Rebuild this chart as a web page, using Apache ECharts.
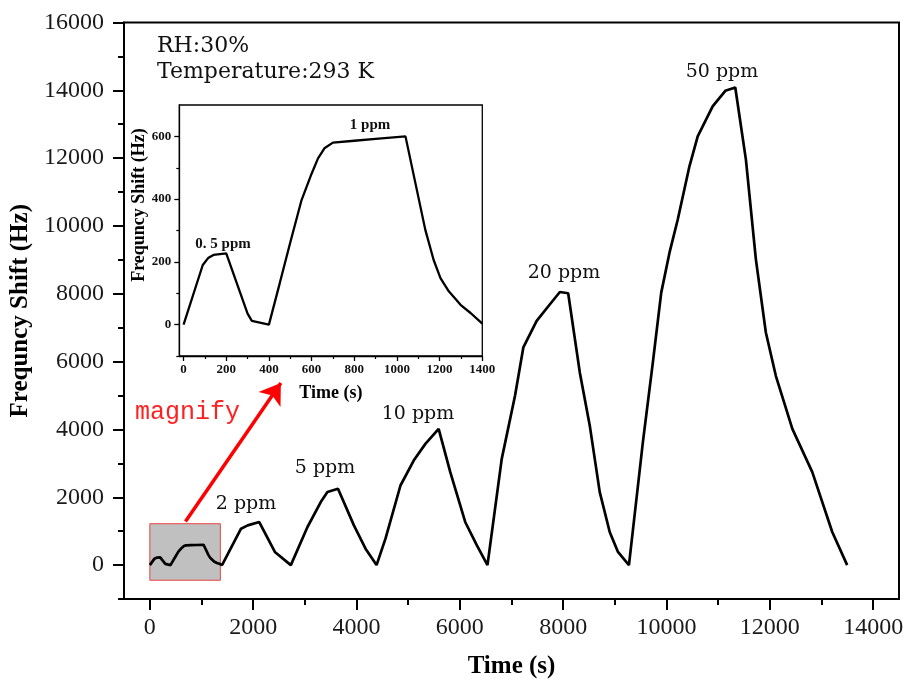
<!DOCTYPE html>
<html>
<head>
<meta charset="utf-8">
<script src="https://cdn.jsdelivr.net/npm/echarts@6/dist/echarts.min.js"></script>
<style>html,body{margin:0;padding:0;background:#fff;}#chart{width:907px;height:684px;}</style>
</head>
<body>
<div id="chart"></div>
<script>
// ---- data ----
// low-concentration part (0.5 ppm and 1 ppm), shown in the inset and at the start of the main curve
const lowTime  = [0, 90, 115, 140, 200, 300, 320, 400, 450, 500, 553, 600, 630, 660, 700, 800, 900, 1040, 1133, 1172, 1204, 1243, 1298, 1345, 1400];
const lowShift = [0, 190, 212, 222, 227, 35, 12, 0, 130, 262, 397, 481, 530, 562, 580, 586, 592, 600, 302, 206, 148, 106, 63, 37, 3];
// 2, 5, 10, 20, 50 ppm part of the main curve
const highTime  = [1765, 1894, 2118, 2420, 2729, 3051, 3308, 3437, 3642, 3950, 4175, 4388, 4561, 4851, 5107, 5333, 5590, 5815, 6104, 6330, 6535, 6811, 7068, 7229, 7487, 7744, 7936, 8097, 8322, 8515, 8708, 8901, 9061, 9273, 9543, 9736, 9898, 10058, 10218, 10444, 10604, 10893, 11138, 11331, 11537, 11730, 11923, 12116, 12436, 12822, 13208, 13497];
const highShift = [1074, 1171, 1270, 388, 0, 1123, 1859, 2153, 2250, 1170, 485, 0, 779, 2347, 3082, 3574, 4015, 2741, 1271, 582, 0, 3132, 4994, 6417, 7200, 7691, 8053, 8015, 5682, 4112, 2153, 976, 388, 0, 3624, 5976, 8035, 9212, 10191, 11759, 12641, 13524, 13985, 14082, 11956, 9015, 6859, 5582, 4015, 2741, 976, 0];

// tick values
const mainXMajor = [0, 2000, 4000, 6000, 8000, 10000, 12000, 14000];
const mainXMinor = [1000, 3000, 5000, 7000, 9000, 11000, 13000];
const mainYMajor = [0, 2000, 4000, 6000, 8000, 10000, 12000, 14000, 16000];
const mainYMinor = [-1000, 1000, 3000, 5000, 7000, 9000, 11000, 13000, 15000];
const insetXMajor = [0, 200, 400, 600, 800, 1000, 1200, 1400];
const insetXMinor = [100, 300, 500, 700, 900, 1100, 1300];
const insetYMajor = [0, 200, 400, 600];
const insetYMinor = [-100, 100, 300, 500];

// annotation texts
const condText = ['RH:30%', 'Temperature:293 K'];
const ppmLabels = ['2 ppm', '5 ppm', '10 ppm', '20 ppm', '50 ppm'];
const insetLabels = ['0. 5 ppm', '1 ppm'];
const magnifyText = 'magnify';
// magnified region and arrow (data coordinates of the main axes)
const zoomBox = [[0, 1220], [1365, -447]];
const arrowFromTo = [[690, 1288], [2536, 5368]];

const mainTime = lowTime.concat(highTime);
const mainShift = lowShift.concat(highShift);
const mainData = mainTime.map((t, i) => [t, mainShift[i]]);
const insetData = lowTime.map((t, i) => [t, lowShift[i]]);

const SERIF = '"Liberation Serif", "Times New Roman", serif';
const DSERIF = '"DejaVu Serif", serif';
const plain = v => String(v);

const chart = echarts.init(document.getElementById('chart'), null, {renderer: 'canvas'});

function minorAxis(base, vals, len, w) {
  return Object.assign({}, base, {
    name: '',
    axisLine: {show: false, onZero: false},
    axisLabel: {show: false},
    splitLine: {show: false},
    axisTick: {show: true, customValues: vals, length: len, inside: false, lineStyle: {color: '#000', width: w}}
  });
}

const mainX = {
  type: 'value', gridIndex: 0, min: -500, max: 14500, position: 'bottom',
  axisLine: {show: true, onZero: false, lineStyle: {color: '#000', width: 2}},
  axisTick: {show: true, customValues: mainXMajor, length: 11, lineStyle: {color: '#000', width: 2}},
  axisLabel: {show: true, customValues: mainXMajor, formatter: plain, fontFamily: SERIF, fontSize: 24, color: '#1a1a1a', margin: 17},
  splitLine: {show: false},
  name: 'Time (s)', nameLocation: 'middle', nameGap: 55,
  nameTextStyle: {fontFamily: SERIF, fontWeight: 'bold', fontSize: 25, color: '#000'}
};
const mainY = {
  type: 'value', gridIndex: 0, min: -1000, max: 16000, position: 'left',
  axisLine: {show: true, onZero: false, lineStyle: {color: '#000', width: 2}},
  axisTick: {show: true, customValues: mainYMajor, length: 11, lineStyle: {color: '#000', width: 2}},
  axisLabel: {show: true, customValues: mainYMajor, formatter: plain, fontFamily: SERIF, fontSize: 24, color: '#1a1a1a', margin: 20},
  splitLine: {show: false},
  name: 'Frequncy Shift (Hz)', nameLocation: 'middle', nameGap: 84,
  nameTextStyle: {fontFamily: SERIF, fontWeight: 'bold', fontSize: 25, color: '#000'}
};
const insetX = {
  type: 'value', gridIndex: 1, min: -20, max: 1400, position: 'bottom', z: 12,
  axisLine: {show: true, onZero: false, lineStyle: {color: '#000', width: 1.3}},
  axisTick: {show: true, customValues: insetXMajor, length: 5, lineStyle: {color: '#000', width: 1.3}},
  axisLabel: {show: true, customValues: insetXMajor, formatter: plain, fontFamily: SERIF, fontWeight: 'bold', fontSize: 13, color: '#111', margin: 7},
  splitLine: {show: false},
  name: 'Time (s)', nameLocation: 'middle', nameGap: 28,
  nameTextStyle: {fontFamily: SERIF, fontWeight: 'bold', fontSize: 18, color: '#000'}
};
const insetY = {
  type: 'value', gridIndex: 1, min: -100, max: 700, position: 'left', z: 12,
  axisLine: {show: true, onZero: false, lineStyle: {color: '#000', width: 1.3}},
  axisTick: {show: true, customValues: insetYMajor, length: 5, lineStyle: {color: '#000', width: 1.3}},
  axisLabel: {show: true, customValues: insetYMajor, formatter: plain, fontFamily: SERIF, fontWeight: 'bold', fontSize: 13, color: '#111', margin: 8},
  splitLine: {show: false}
};

function txt(text, x, y, font, fill, align) {
  return {type: 'text', x: x, y: y, z: 50, silent: true,
    style: {text: text, font: font, fill: fill || '#111', textAlign: align || 'center', textVerticalAlign: 'middle'}};
}

const option = {
  animation: false,
  backgroundColor: '#fff',
  grid: [
    {left: 124, top: 22.5, right: 8, bottom: 84, show: true, borderColor: '#000', borderWidth: 2, backgroundColor: 'transparent', z: 0},
    {left: 179.3, top: 105, width: 303, height: 251, show: true, borderColor: '#000', borderWidth: 1.3, backgroundColor: '#fff', z: 10}
  ],
  xAxis: [
    mainX,
    minorAxis(mainX, mainXMinor, 6, 2),
    insetX,
    minorAxis(insetX, insetXMinor, 3, 1.2)
  ],
  yAxis: [
    mainY,
    minorAxis(mainY, mainYMinor, 6, 2),
    insetY,
    minorAxis(insetY, insetYMinor, 3, 1.2)
  ],
  series: [
    {
      type: 'line', xAxisIndex: 0, yAxisIndex: 0, data: mainData,
      showSymbol: false, symbol: 'none', smooth: false, z: 3,
      lineStyle: {color: '#000', width: 2.7},
      markArea: {
        silent: true,
        itemStyle: {color: '#c0c0c0', opacity: 1, borderColor: '#e84545', borderWidth: 1},
        data: [[{coord: zoomBox[0]}, {coord: zoomBox[1]}]]
      },
      markLine: {
        silent: true, symbol: ['none', 'arrow'], symbolSize: 20,
        label: {show: false},
        lineStyle: {color: '#ff0000', width: 3.5, type: 'solid'},
        data: [[{coord: arrowFromTo[0]}, {coord: arrowFromTo[1]}]]
      }
    },
    {
      type: 'line', xAxisIndex: 2, yAxisIndex: 2, data: insetData,
      showSymbol: false, symbol: 'none', smooth: false, z: 13,
      lineStyle: {color: '#000', width: 2.3}
    }
  ],
  graphic: [
    txt(condText[0], 157, 46, '22px ' + DSERIF, '#111', 'left'),
    txt(condText[1], 157, 72, '22px ' + DSERIF, '#111', 'left'),
    txt(ppmLabels[0], 246, 504, '19px ' + DSERIF),
    txt(ppmLabels[1], 325, 468, '19px ' + DSERIF),
    txt(ppmLabels[2], 418, 414, '19px ' + DSERIF),
    txt(ppmLabels[3], 564, 273, '19px ' + DSERIF),
    txt(ppmLabels[4], 722, 72, '19px ' + DSERIF),
    txt(magnifyText, 135, 412, '25px "Liberation Mono", monospace', '#ff2020', 'left'),
    txt(insetLabels[0], 223, 244, 'bold 15px ' + SERIF),
    txt(insetLabels[1], 370, 125, 'bold 15px ' + SERIF),
    {type: 'text', x: 139, y: 205, z: 50, rotation: Math.PI / 2, silent: true,
      style: {text: 'Frequncy Shift (Hz)', font: 'bold 18px ' + SERIF, fill: '#000', textAlign: 'center', textVerticalAlign: 'middle'}}
  ]
};
chart.setOption(option);
</script>
</body>
</html>
